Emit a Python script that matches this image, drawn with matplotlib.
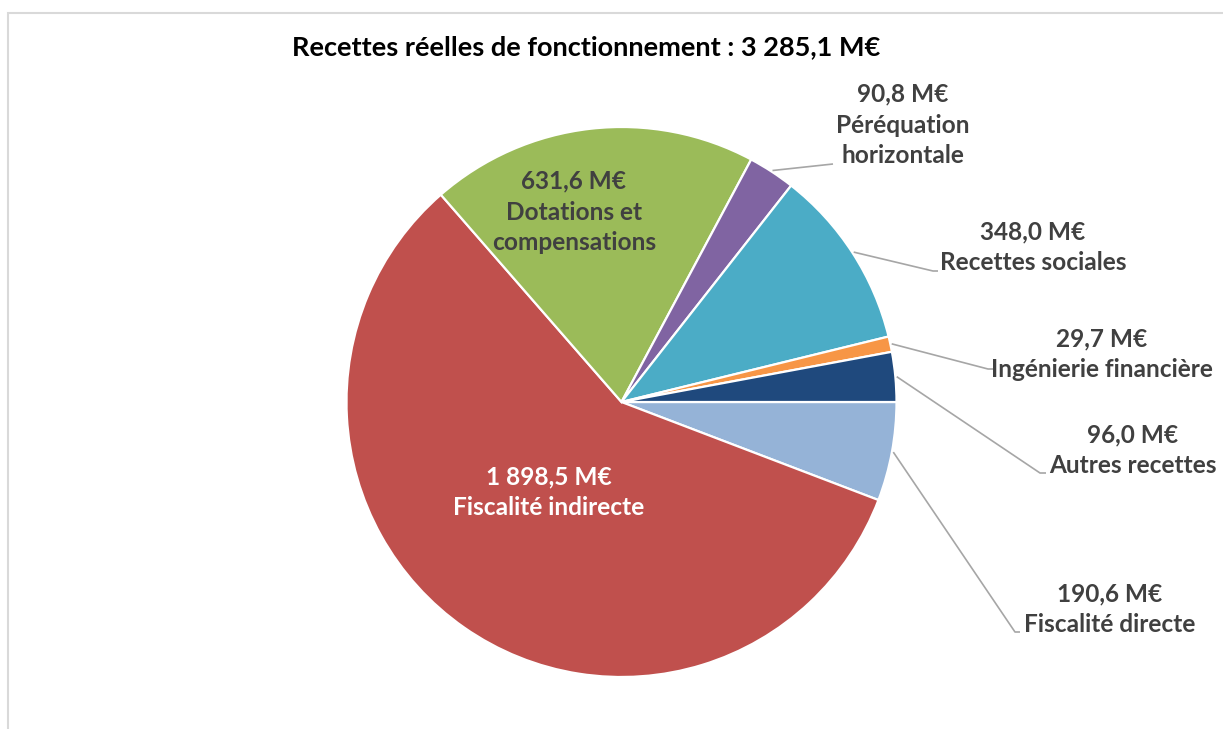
import numpy as np
import matplotlib
matplotlib.use("Agg")
import matplotlib.pyplot as plt
from matplotlib.patches import Rectangle

# --- data (clockwise from 3 o'clock) ---
categories = ["Fiscalité directe", "Fiscalité indirecte", "Dotations et\ncompensations",
              "Péréquation\nhorizontale", "Recettes sociales", "Ingénierie financière",
              "Autres recettes"]
values = [190.6, 1898.5, 631.6, 90.8, 348.0, 29.7, 96.0]
value_labels = ["190,6 M€", "1 898,5 M€", "631,6 M€", "90,8 M€", "348,0 M€", "29,7 M€", "96,0 M€"]
colors = ["#95B3D7", "#C0504D", "#9BBB59", "#8064A2", "#4BACC6", "#F79646", "#1F497D"]
title = "Recettes réelles de fonctionnement : 3 285,1 M€"

W, H = 1223, 729
CX, CY, R = 621.5, 402, 275.0

plt.rcParams['font.family'] = ['Lato', 'DejaVu Sans']
fig = plt.figure(figsize=(W / 100, H / 100), dpi=100)
fig.patch.set_facecolor("white")

# outer chart frame (extends past the image)
fig.patches.append(Rectangle((8 / W, -0.1), 1.2, 1 - 12.5 / H + 0.1, transform=fig.transFigure,
                             fill=False, edgecolor="#D9D9D9", linewidth=1.5))

ax = fig.add_axes([0, 0, 1, 1])
wedges, _ = ax.pie(values, colors=colors, startangle=0, counterclock=False, radius=1.0,
                   wedgeprops=dict(edgecolor="white", linewidth=1.6))
ax.set_xlim(-CX / R, (W - CX) / R)
ax.set_ylim(-(H - CY) / R, CY / R)
ax.set_aspect("equal")
ax.axis("off")


def px(x, y):
    return (x - CX) / R, (CY - y) / R


# label block centres (pixels) and leader elbows; None = inside label
label_pos = [(1110, 609), (549, 492), (574, 212), (903, 125), (1033, 247), (1102, 354), (1133, 450)]
elbows = [[(1015, 632), (1020, 632)], None, None, [(833, 164)], [(933, 271), (938, 271)],
          [(988, 369), (994, 369)], [(1040, 473), (1046, 473)]]

for i, w in enumerate(wedges):
    txt = value_labels[i] + "\n" + categories[i]
    tc = "white" if i == 1 else "#404040"
    lx, ly = px(*label_pos[i])
    ax.text(lx, ly, txt, ha="center", va="center", fontsize=17.6, fontweight="bold",
            color=tc, linespacing=1.41, clip_on=False)
    if elbows[i] is not None:
        ang = np.deg2rad((w.theta1 + w.theta2) / 2)
        xs = [1.005 * np.cos(ang)] + [px(*p)[0] for p in elbows[i]]
        ys = [1.005 * np.sin(ang)] + [px(*p)[1] for p in elbows[i]]
        ax.plot(xs, ys, color="#A6A6A6", linewidth=1.2, solid_capstyle="butt")

fig.text(586 / W, 1 - 47 / H, title, ha="center", va="center", fontsize=19.5,
         fontweight="bold", color="black")

fig.savefig("out.png", dpi=100, facecolor="white")
